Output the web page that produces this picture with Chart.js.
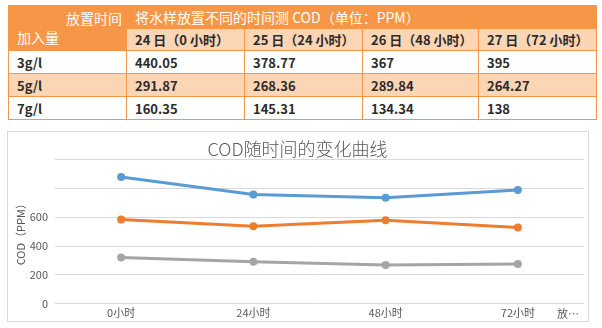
<!DOCTYPE html>
<html>
<head>
<meta charset="utf-8">
<script src="https://cdn.jsdelivr.net/npm/chart.js@4"></script>
<style>
    body { margin: 0; background: #fff; width: 602px; height: 328px; position: relative; overflow: hidden;
           font-family: "Noto Sans CJK SC", "Noto Sans", sans-serif; }
    #tabla { position: absolute; left: 8px; top: 5px; width: 588px; border-collapse: collapse; table-layout: fixed; }
    #tabla td { border: 1px solid #f79646; padding: 0 0 0 8px; font-size: 13px; color: #2b2b2b;
                white-space: nowrap; overflow: hidden; font-weight: 700; }
    #tabla tr.h1 td { background: #f79646; color: #fff; font-size: 14px; font-weight: 400; height: 22px; }
    #tabla tr.h2 td { background: #fcd5b4; height: 21px; }
    #tabla tr.fila td { height: 22px; }
    #tabla tr.fila.par td { background: #fcd5b4; }
    #tabla td.esquina { position: relative; padding: 0; background: #f79646;
        background-image: linear-gradient(to top right, transparent calc(50% - 0.7px), #1a1a1a 50%, transparent calc(50% + 0.7px)); }
    .esquina .arriba { position: absolute; right: 4px; top: 2px; color: #fff; font-size: 14px; font-weight: 400; }
    .esquina .abajo { position: absolute; left: 8px; bottom: 3px; color: #fff; font-size: 14px; font-weight: 400; }
    #caja { position: absolute; left: 7px; top: 131px; width: 580px; height: 189px; border: 1px solid #d9d9d9; }
</style>
</head>
<body>
<table id="tabla"></table>
<div id="caja"><canvas id="graficoCOD" width="580" height="189"></canvas></div>
<script>
// Datos de la tabla (COD en PPM)
const tituloTabla = '将水样放置不同的时间测 COD（单位：PPM）';
const encabezadosDias = ['24 日（0 小时）', '25 日（24 小时）', '26 日（48 小时）', '27 日（72 小时）'];
const dosis = ['3g/l', '5g/l', '7g/l'];
const cod3 = ['440.05', '378.77', '367', '395'];
const cod5 = ['291.87', '268.36', '289.84', '264.27'];
const cod7 = ['160.35', '145.31', '134.34', '138'];

// Datos de la curva
const horas = ['0小时', '24小时', '48小时', '72小时'];
const curva3 = [880, 758, 735, 790];
const curva5 = [584, 537, 580, 529];
const curva7 = [321, 291, 269, 276];
const ticksY = [0, 200, 400, 600];

function construirTabla() {
    const tabla = document.getElementById('tabla');
    let html = '<colgroup><col style="width:118px"><col style="width:118px"><col style="width:118px"><col style="width:116px"><col style="width:118px"></colgroup>';
    html += '<tr class="h1"><td class="esquina" rowspan="2"><span class="arriba">放置时间</span><span class="abajo">加入量</span></td>';
    html += `<td colspan="4">${tituloTabla}</td></tr>`;
    html += '<tr class="h2">' + encabezadosDias.map(d => `<td>${d}</td>`).join('') + '</tr>';
    [cod3, cod5, cod7].forEach((fila, i) => {
        html += `<tr class="fila${i === 1 ? ' par' : ''}"><td>${dosis[i]}</td>` + fila.map(v => `<td>${v}</td>`).join('') + '</tr>';
    });
    tabla.innerHTML = html;
}

// Título del eje X recortado, a la derecha de las etiquetas
const tituloEjeX = {
    id: 'tituloEjeX',
    afterDraw(chart) {
        const ctx = chart.ctx;
        const x = chart.scales.x;
        ctx.save();
        ctx.font = '11px "Noto Sans CJK SC"';
        ctx.fillStyle = '#595959';
        ctx.textAlign = 'left';
        ctx.textBaseline = 'middle';
        ctx.fillText('放…', chart.chartArea.right - 27, x.top + 10);
        ctx.restore();
    }
};

function serie(nombre, datos, color) {
    return {
        label: nombre,
        data: datos,
        borderColor: color,
        backgroundColor: color,
        borderWidth: 3,
        pointRadius: 4,
        pointBorderWidth: 0,
        tension: 0
    };
}

function crearGrafico() {
    const ctx = document.getElementById('graficoCOD');
    new Chart(ctx, {
        type: 'line',
        data: {
            labels: horas,
            datasets: [
                serie(dosis[0], curva3, '#5b9bd5'),
                serie(dosis[1], curva5, '#ed7d31'),
                serie(dosis[2], curva7, '#a5a5a5')
            ]
        },
        options: {
            responsive: false,
            animation: false,
            layout: { padding: { top: 6, right: 1, left: 0, bottom: 0 } },
            plugins: {
                legend: { display: false },
                tooltip: { enabled: false },
                title: {
                    display: true,
                    text: 'COD随时间的变化曲线',
                    color: '#595959',
                    font: { family: 'Noto Sans CJK SC', size: 18, weight: 300 },
                    padding: { top: 0, bottom: 0 }
                }
            },
            scales: {
                x: {
                    offset: true,
                    grid: { display: false, drawTicks: false },
                    border: { display: false },
                    ticks: { color: '#595959', font: { family: 'Noto Sans CJK SC', size: 11 }, padding: 2, maxRotation: 0 }
                },
                y: {
                    min: 0,
                    max: 1000,
                    grid: { color: '#d9d9d9', drawTicks: false },
                    border: { display: false },
                    ticks: {
                        stepSize: 200,
                        color: '#595959',
                        padding: 7,
                        font: { family: 'Noto Sans CJK SC', size: 11 },
                        callback: v => ticksY.includes(v) ? v : ''
                    },
                    title: {
                        display: true,
                        text: 'COD（PPM）',
                        color: '#595959',
                        font: { family: 'Noto Sans CJK SC', size: 11 },
                        padding: { top: 6, bottom: 0 }
                    },
                    afterFit: scale => { scale.width = 47; }
                }
            }
        },
        plugins: [tituloEjeX]
    });
}

construirTabla();
crearGrafico();
</script>
</body>
</html>
